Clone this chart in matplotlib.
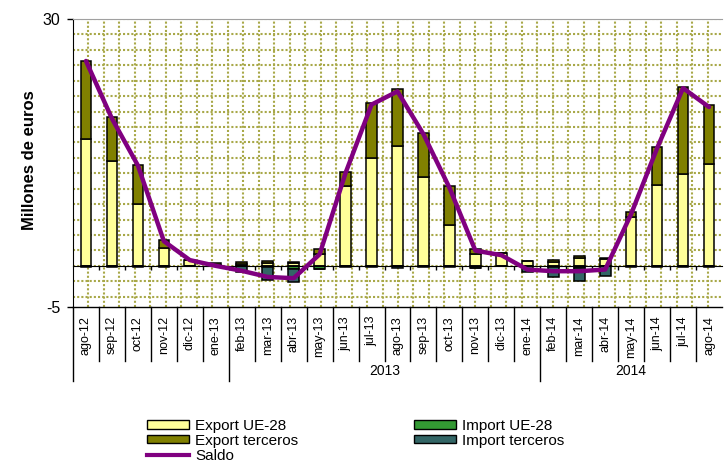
import matplotlib
matplotlib.use('Agg')
import matplotlib.pyplot as plt
import matplotlib.transforms as mtransforms
from matplotlib.lines import Line2D
from matplotlib.patches import Patch
import numpy as np

months = ["ago-12", "sep-12", "oct-12", "nov-12", "dic-12", "ene-13", "feb-13", "mar-13",
          "abr-13", "may-13", "jun-13", "jul-13", "ago-13", "sep-13", "oct-13", "nov-13",
          "dic-13", "ene-14", "feb-14", "mar-14", "abr-14", "may-14", "jun-14", "jul-14", "ago-14"]
export_ue = [15.4, 12.75, 7.5, 2.2, 0.7, 0.15, 0.25, 0.3, 0.4, 1.5, 9.7, 13.1, 14.6, 10.8,
             5.0, 1.5, 1.6, 0.55, 0.5, 1.0, 0.8, 5.9, 9.8, 11.2, 12.4]
export_ter = [9.5, 5.3, 4.7, 1.0, 0.0, 0.25, 0.2, 0.3, 0.1, 0.6, 1.7, 6.7, 6.9, 5.3,
              4.7, 0.6, 0.0, 0.0, 0.2, 0.2, 0.1, 0.6, 4.6, 10.5, 7.1]
import_ue = [0.0, 0.0, 0.0, 0.0, 0.0, 0.0, 0.0, -0.1, -0.4, -0.4, 0.0, 0.0, -0.05, 0.0,
             0.0, -0.3, 0.0, 0.0, -0.1, -0.3, 0.0, 0.0, 0.0, 0.0, 0.0]
import_ter = [-0.1, -0.1, -0.1, -0.1, 0.0, -0.05, -0.8, -1.6, -1.6, 0.0, -0.1, -0.1, -0.25, -0.1,
              -0.1, 0.0, 0.0, -0.7, -1.2, -1.5, -1.2, -0.1, -0.1, -0.1, -0.1]
saldo = [24.9, 17.9, 12.2, 3.0, 0.7, 0.0, -0.6, -1.35, -1.5, 1.4, 11.3, 19.6, 21.2, 16.0,
         9.5, 1.85, 1.3, -0.45, -0.65, -0.65, -0.45, 6.3, 14.3, 21.6, 19.3]
year_labels = ["", "2013", "2014"]
year_start = [0, 6, 18]
year_end = [5, 17, 24]
ytick_vals = [-5, 30]

plt.rcParams['font.family'] = ['Liberation Sans', 'DejaVu Sans']

W, H = 725, 463
fig = plt.figure(figsize=(W / 100, H / 100), dpi=100)
L, R, T, B = 73, 722, 19, 307
ax = fig.add_axes([L / W, 1 - B / H, (R - L) / W, (B - T) / H])
n = len(months)
x = np.arange(n)
ax.set_xlim(-0.5, n - 0.5)
ax.set_ylim(-5, 30)

# dotted pattern background
grid_col = '#a8a848'
step_y = 30 / 16
for yv in np.arange(-2 * step_y, 30 + 1e-6, step_y):
    ax.axhline(yv, color=grid_col, lw=1.5, ls=(0, (1, 1)), zorder=0)
step_x = 15.5 / 26
for xv in np.arange(-0.5 + step_x, n - 0.5, step_x):
    ax.axvline(xv, color=grid_col, lw=1.5, ls=(0, (1, 1)), zorder=0)

bw = 0.41
ekw = dict(edgecolor='black', linewidth=1.1, zorder=2)
ax.bar(x, export_ue, bw, color='#FFFF99', **ekw)
ax.bar(x, export_ter, bw, bottom=export_ue, color='#808000', **ekw)
ax.bar(x, import_ue, bw, color='#339933', **ekw)
ax.bar(x, import_ter, bw, bottom=import_ue, color='#336666', **ekw)
ax.plot(x, saldo, color='#800080', lw=3.2, zorder=4, solid_capstyle='round')

# axes styling
ax.spines['bottom'].set_position(('data', 0))
ax.spines['bottom'].set_color('black')
ax.spines['bottom'].set_zorder(3)
ax.spines['top'].set_color('#a0a0a0')
ax.spines['right'].set_visible(False)
ax.spines['left'].set_color('black')
ax.set_xticks(np.arange(0.5, n - 1, 1))
ax.tick_params(axis='x', direction='out', length=3, labelbottom=False, width=1)
ax.set_yticks(ytick_vals)
ax.set_yticklabels([str(v) for v in ytick_vals], fontsize=11.5)
ax.tick_params(axis='y', direction='out', length=4, width=1, pad=5)

# category table
blend = mtransforms.blended_transform_factory(ax.transData, fig.transFigure)
ax.plot([0, 1], [0, 0], transform=ax.transAxes, color='black', lw=1, clip_on=False)
y_top = 1 - B / H
y_cat = 1 - 361 / H
y_grp = 1 - 381 / H
group_bounds = [s - 0.5 for s in year_start]
for k in range(1, n):
    bx = k - 0.5
    if bx in group_bounds:
        continue
    ax.add_line(Line2D([bx, bx], [y_top, y_cat], transform=blend, color='black', lw=1, clip_on=False))
for bx in group_bounds:
    ax.add_line(Line2D([bx, bx], [y_top, y_grp], transform=blend, color='black', lw=1, clip_on=False))
for i, m in enumerate(months):
    ax.text(i, 1 - 316 / H, m, transform=blend, rotation=90, ha='center', va='top', fontsize=9)
for lab, s, e in zip(year_labels, year_start, year_end):
    ax.text((s + e) / 2, 1 - 371 / H, lab, transform=blend, ha='center', va='center', fontsize=10)

fig.text(30 / W, 1 - 160 / H, 'Millones de euros', rotation=90, ha='center', va='center',
         fontsize=12, fontweight='bold')

handles = [Patch(facecolor='#FFFF99', edgecolor='black', lw=1),
           Patch(facecolor='#808000', edgecolor='black', lw=1),
           Line2D([], [], color='#800080', lw=3),
           Patch(facecolor='#339933', edgecolor='black', lw=1),
           Patch(facecolor='#336666', edgecolor='black', lw=1)]
labels = ['Export UE-28', 'Export terceros', 'Saldo', 'Import UE-28', 'Import terceros']
fig.legend(handles, labels, ncol=2, loc='upper left', bbox_to_anchor=(147 / W, 1 - 419 / H),
           frameon=False, fontsize=11, handlelength=2.75, handleheight=0.45, handletextpad=0.4,
           labelspacing=0.05, columnspacing=7.6, borderpad=0, borderaxespad=0)

fig.savefig('out.png', dpi=100)
